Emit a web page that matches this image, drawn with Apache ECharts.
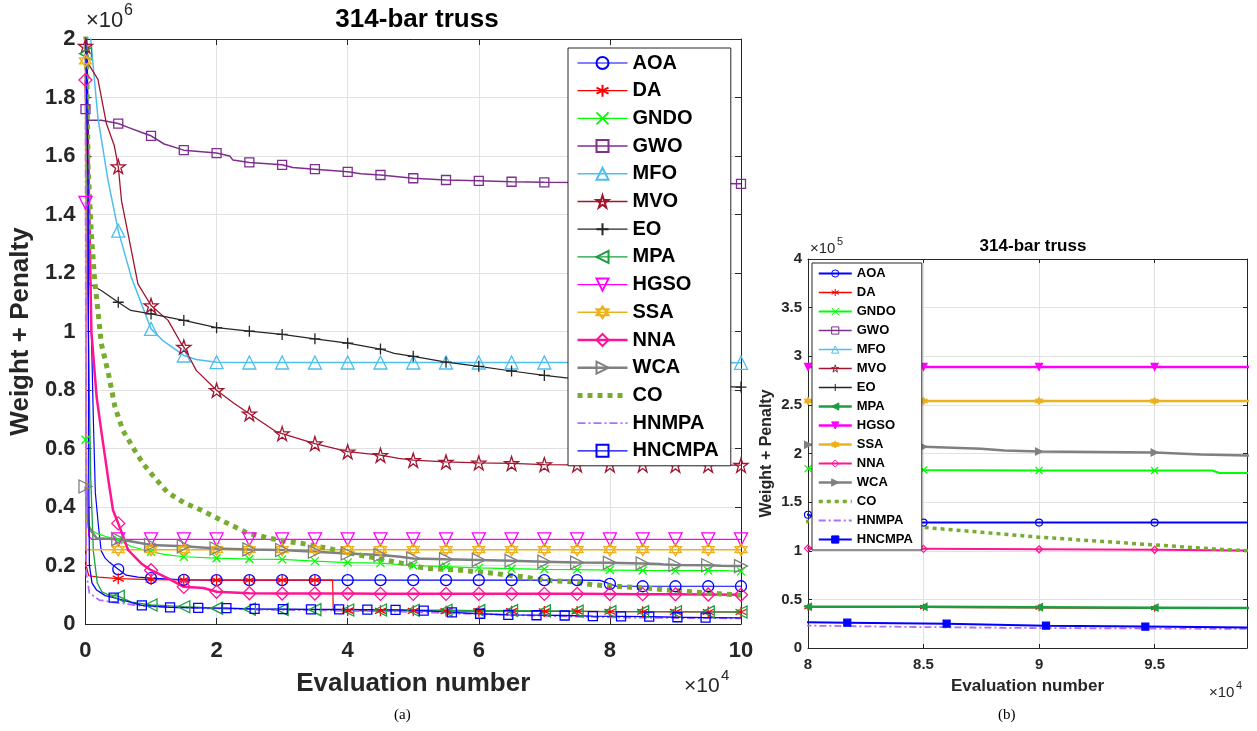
<!DOCTYPE html>
<html>
<head>
<meta charset="utf-8">
<title>314-bar truss</title>
<script src="https://cdn.jsdelivr.net/npm/echarts@6.0.0/dist/echarts.min.js"></script>
<style>
  html, body { margin: 0; padding: 0; background: #fff; }
  #chart { width: 1257px; height: 731px; }
</style>
</head>
<body>
<div id="chart"></div>
<script>
  // convergence histories: x in 1e4 evaluations, y in 1e6 (weight + penalty)
  const names = ['AOA', 'DA', 'GNDO', 'GWO', 'MFO', 'MVO', 'EO', 'MPA', 'HGSO', 'SSA', 'NNA', 'WCA', 'CO', 'HNMPA', 'HNCMPA'];

  const AOA = [[0,2.05],[0.02,2.0],[0.05,1.6],[0.08,1.1],[0.12,0.7],[0.15,0.45],[0.2,0.33],[0.24,0.25],[0.3,0.225],[0.37,0.21],[0.5,0.187],[0.62,0.167],[0.8,0.16],[1,0.157],[1.5,0.151],[2,0.15],[2.5,0.15],[3,0.15],[3.5,0.15],[4,0.15],[4.5,0.15],[5,0.15],[5.5,0.15],[6,0.15],[6.5,0.15],[7,0.15],[7.5,0.15],[7.85,0.149],[8,0.137],[8.1,0.129],[8.5,0.129],[9,0.129],[9.5,0.129],[10,0.129]];
  const DA = [[0,2.1],[0.01,0.2],[0.05,0.165],[0.2,0.16],[0.5,0.155],[1,0.152],[1.5,0.151],[2,0.15],[2.5,0.15],[3,0.15],[3.5,0.15],[3.77,0.15],[3.78,0.046],[4,0.046],[4.5,0.045],[5,0.045],[5.5,0.044],[6,0.044],[6.5,0.044],[7,0.043],[7.5,0.043],[8,0.042],[8.5,0.042],[9,0.0415],[9.5,0.041],[10,0.041]];
  const GNDO = [[0,0.63],[0.02,0.35],[0.1,0.32],[0.17,0.31],[0.3,0.3],[0.5,0.287],[0.7,0.265],[1,0.247],[1.2,0.238],[1.5,0.23],[2,0.225],[2.5,0.222],[3,0.221],[3.5,0.215],[4,0.21],[4.5,0.208],[5,0.2],[5.5,0.196],[6,0.192],[6.5,0.189],[7,0.187],[7.5,0.186],[8,0.1845],[8.5,0.183],[9,0.1825],[9.5,0.1825],[9.75,0.1825],[9.78,0.18],[10,0.18]];
  const GWO = [[0,1.76],[0.03,1.722],[0.24,1.722],[0.5,1.711],[0.65,1.698],[0.85,1.681],[1,1.669],[1.2,1.641],[1.5,1.62],[2,1.61],[2.2,1.6],[2.25,1.586],[2.5,1.578],[3,1.57],[3.16,1.561],[3.5,1.555],[4,1.546],[4.2,1.539],[4.5,1.535],[5,1.524],[5.5,1.518],[6,1.515],[6.5,1.512],[7,1.51],[7.5,1.509],[8,1.508],[8.5,1.507],[9,1.506],[9.5,1.506],[10,1.505]];
  const MFO = [[0,2.1],[0.08,2.0],[0.19,1.73],[0.345,1.515],[0.5,1.345],[0.7,1.185],[1,1.009],[1.18,0.969],[1.5,0.918],[1.69,0.904],[2,0.895],[2.5,0.894],[3,0.894],[3.5,0.894],[4,0.894],[4.5,0.894],[5,0.894],[5.5,0.894],[6,0.894],[6.5,0.894],[7,0.894],[7.5,0.894],[8,0.893],[8.5,0.893],[9,0.893],[9.5,0.893],[10,0.893]];
  const MVO = [[0,1.976],[0.03,1.92],[0.19,1.862],[0.32,1.71],[0.44,1.635],[0.5,1.564],[0.55,1.447],[0.65,1.334],[0.8,1.163],[1,1.089],[1.26,1.038],[1.46,0.959],[1.5,0.947],[1.69,0.867],[2,0.799],[2.27,0.754],[2.5,0.719],[2.91,0.657],[3,0.651],[3.5,0.617],[4,0.589],[4.5,0.577],[4.78,0.566],[5,0.56],[5.5,0.554],[6,0.551],[6.5,0.549],[7,0.545],[7.5,0.544],[8,0.544],[8.5,0.544],[9,0.543],[9.5,0.543],[10,0.543]];
  const EO = [[0,2.1],[0.03,1.9],[0.04,1.165],[0.24,1.14],[0.5,1.1],[0.69,1.072],[1,1.06],[1.5,1.038],[2,1.013],[2.5,1.001],[3,0.99],[3.5,0.975],[4,0.96],[4.5,0.94],[4.71,0.925],[5,0.915],[5.5,0.895],[6,0.881],[6.5,0.865],[7,0.85],[7.5,0.837],[8,0.828],[8.5,0.822],[9,0.817],[9.5,0.813],[10,0.81]];
  const MPA = [[0,1.95],[0.03,1.2],[0.08,0.5],[0.12,0.25],[0.18,0.14],[0.25,0.11],[0.35,0.1],[0.5,0.095],[0.7,0.075],[1,0.065],[1.5,0.059],[2,0.054],[2.5,0.051],[3,0.05],[3.5,0.049],[4,0.048],[4.5,0.048],[5,0.047],[5.5,0.047],[6,0.046],[6.5,0.046],[7,0.045],[7.5,0.044],[8,0.0425],[8.5,0.0425],[9,0.042],[9.5,0.0415],[10,0.041]];
  const HGSO = [[0,1.44],[0.02,0.5],[0.05,0.3],[0.1,0.289],[0.5,0.289],[1,0.289],[1.5,0.289],[2,0.289],[2.5,0.289],[3,0.289],[3.5,0.289],[4,0.289],[4.5,0.289],[5,0.289],[5.5,0.289],[6,0.289],[6.5,0.289],[7,0.289],[7.5,0.289],[8,0.289],[8.5,0.289],[9,0.289],[9.5,0.289],[10,0.289]];
  const SSA = [[0,1.925],[0.01,0.254],[0.5,0.254],[1,0.254],[1.5,0.254],[2,0.254],[2.5,0.254],[3,0.254],[3.5,0.254],[4,0.254],[4.5,0.254],[5,0.254],[5.5,0.254],[6,0.254],[6.5,0.254],[7,0.254],[7.5,0.254],[8,0.254],[8.5,0.254],[9,0.254],[9.5,0.254],[10,0.254]];
  const NNA = [[0,1.86],[0.05,1.5],[0.09,1.0],[0.17,0.776],[0.24,0.662],[0.35,0.491],[0.42,0.389],[0.5,0.344],[0.65,0.253],[0.85,0.207],[1,0.184],[1.26,0.156],[1.5,0.127],[1.8,0.123],[2,0.11],[2.5,0.105],[3,0.104],[3.5,0.104],[4,0.104],[4.5,0.103],[5,0.103],[5.5,0.103],[6,0.103],[6.5,0.103],[7,0.103],[7.5,0.103],[8,0.1025],[8.5,0.102],[9,0.1015],[9.5,0.101],[10,0.1]];
  const WCA = [[0,0.47],[0.05,0.33],[0.17,0.293],[0.5,0.29],[0.75,0.28],[1,0.27],[1.5,0.266],[2,0.258],[2.5,0.255],[3,0.253],[3.5,0.247],[4,0.241],[4.5,0.236],[4.8,0.23],[5,0.224],[5.5,0.221],[6,0.219],[6.5,0.216],[7,0.213],[7.5,0.21],[8,0.209],[8.5,0.207],[8.75,0.205],[8.85,0.203],[9,0.202],[9.5,0.201],[9.7,0.199],[9.9,0.198],[10,0.198]];
  const CO = [[0,2.05],[0.02,1.9],[0.04,1.56],[0.09,1.334],[0.14,1.174],[0.19,1.072],[0.24,0.96],[0.35,0.856],[0.45,0.742],[0.57,0.662],[0.75,0.594],[0.88,0.548],[1,0.515],[1.25,0.45],[1.5,0.415],[1.77,0.389],[1.97,0.366],[2.48,0.31],[2.98,0.285],[3.29,0.276],[3.69,0.259],[4.2,0.235],[4.71,0.213],[5.2,0.19],[5.72,0.184],[6.23,0.173],[6.68,0.161],[6.99,0.15],[7.44,0.144],[7.75,0.134],[8,0.13],[8.25,0.127],[8.5,0.124],[8.75,0.119],[9,0.114],[9.25,0.11],[9.5,0.106],[9.75,0.102],[9.9,0.1],[10,0.098]];
  const HNMPA = [[0,2.1],[0.01,0.175],[0.06,0.106],[0.21,0.082],[0.4,0.075],[0.75,0.065],[1,0.06],[1.5,0.056],[2,0.053],[2.5,0.05],[3,0.048],[3.5,0.047],[4,0.046],[4.5,0.044],[5,0.041],[5.5,0.037],[6,0.034],[6.5,0.031],[7,0.028],[7.5,0.025],[8,0.023],[8.5,0.0215],[9,0.0205],[9.5,0.02],[10,0.0195]];
  const HNCMPA = [[0,2.05],[0.04,1.5],[0.05,0.5],[0.06,0.2],[0.1,0.14],[0.17,0.116],[0.3,0.097],[0.43,0.09],[0.86,0.064],[1.29,0.057],[1.72,0.055],[2.15,0.054],[2.58,0.052],[3.01,0.051],[3.44,0.05],[3.87,0.05],[4.3,0.049],[4.73,0.048],[5.16,0.046],[5.59,0.04],[6.02,0.035],[6.45,0.031],[6.88,0.03],[7.31,0.029],[7.74,0.027],[8.17,0.026],[8.6,0.025],[9.03,0.023],[9.46,0.022],[10,0.021]];

  const curves = [AOA, DA, GNDO, GWO, MFO, MVO, EO, MPA, HGSO, SSA, NNA, WCA, CO, HNMPA, HNCMPA];

  // styles (matlab look)
  const colors = ['#0000ff', '#ff0000', '#00ff00', '#7e2f8e', '#4dbeee', '#a2142f', '#262626', '#1b9e3e', '#ff00ff', '#edb120', '#ff1493', '#808080', '#77ac30', '#b26bff', '#0000ff'];
  const SYM = {
    circle: 'circle',
    asterisk: 'path://M5,0L5,10M0.67,2.5L9.33,7.5M0.67,7.5L9.33,2.5',
    cross: 'path://M1,1L9,9M1,9L9,1',
    square: 'rect',
    triUp: 'triangle',
    star: 'path://M5,0L6.123,3.455L9.755,3.455L6.816,5.59L7.939,9.045L5,6.91L2.061,9.045L3.184,5.59L0.245,3.455L3.877,3.455Z',
    plus: 'path://M5,0L5,10M0,5L10,5',
    triLeft: 'path://M10,0L0,5L10,10Z',
    triDown: 'path://M0,0L10,0L5,10Z',
    hexagram: 'path://M5,0L9.33,7.5L0.67,7.5ZM5,10L0.67,2.5L9.33,2.5Z',
    diamond: 'diamond',
    triRight: 'path://M0,0L10,5L0,10Z',
    none: 'none'
  };
  const symbols = ['circle', 'asterisk', 'cross', 'square', 'triUp', 'star', 'plus', 'triLeft', 'triDown', 'hexagram', 'diamond', 'triRight', 'none', 'none', 'square'];
  const markStep = [0.5, 0.5, 0.5, 0.5, 0.5, 0.5, 0.5, 0.5, 0.5, 0.5, 0.5, 0.5, 0, 0, 0.43];
  const sizeA = [11, 11, 8, 9, 13, 14, 11, 12, 13, 12, 13, 13, 0, 0, 9];
  const widthA = [1.2, 1.2, 1.2, 1.5, 1.5, 1.3, 1.2, 1.3, 1.3, 1.5, 2.5, 2.5, 5, 1.8, 1.3];
  const dashA = ['solid', 'solid', 'solid', 'solid', 'solid', 'solid', 'solid', 'solid', 'solid', 'solid', 'solid', 'solid', [5, 5], [8, 3, 2, 3], 'solid'];
  const filledB = [false, true, true, false, false, false, true, true, true, true, false, true, false, false, true];
  const dashB = ['solid', 'solid', 'solid', 'solid', 'solid', 'solid', 'solid', 'solid', 'solid', 'solid', 'solid', 'solid', [4, 4], [7, 3, 2, 3], 'solid'];
  const widthB = [2, 1.5, 2, 1.5, 1.5, 1.5, 1.5, 2.5, 2.5, 2.5, 2, 2.5, 3.5, 1.8, 2];

  const FONT = '"Liberation Sans", Arial, sans-serif';
  const AX = '#262626';

  function points(pts, step) {
    return pts.map(function (p) {
      const k = step > 0 ? p[0] / step : 0.5;
      const on = step > 0 && Math.abs(k - Math.round(k)) < 1e-6;
      return on ? { value: p } : { value: p, symbol: 'none' };
    });
  }

  function itemStyleOf(i, filled, bw) {
    if (symbols[i] === 'none') return { color: 'transparent', borderWidth: 0 };
    return { color: filled ? colors[i] : 'transparent', borderColor: colors[i], borderWidth: bw };
  }

  const series = [];
  names.forEach(function (n, i) {
    series.push({
      name: n, type: 'line', xAxisIndex: 0, yAxisIndex: 0,
      data: points(curves[i], markStep[i]),
      symbol: SYM[symbols[i]], symbolSize: sizeA[i],
      lineStyle: { color: colors[i], width: widthA[i], type: dashA[i] },
      itemStyle: itemStyleOf(i, false, 1.3),
      emphasis: { disabled: true }
    });
  });
  names.forEach(function (n, i) {
    series.push({
      name: n, type: 'line', xAxisIndex: 2, yAxisIndex: 2,
      data: points(curves[i], markStep[i]),
      symbol: SYM[symbols[i]], symbolSize: 7,
      lineStyle: { color: colors[i], width: widthB[i], type: dashB[i] },
      itemStyle: itemStyleOf(i, filledB[i], 1.2),
      emphasis: { disabled: true }
    });
  });

  function axisBase(extra) {
    return Object.assign({
      type: 'value',
      axisLine: { show: true, onZero: false, lineStyle: { color: AX, width: 1 } },
      axisTick: { show: true, inside: true, length: 6, lineStyle: { color: AX } },
      splitLine: { show: false },
      axisLabel: { show: false }
    }, extra);
  }

  const gridLine = { show: true, lineStyle: { color: '#e1e1e1', width: 1 } };
  const labA = { show: true, fontSize: 22, fontWeight: 'bold', color: AX, fontFamily: FONT };
  const labB = { show: true, fontSize: 15, fontWeight: 'bold', color: AX, fontFamily: FONT };

  const option = {
    animation: false,
    backgroundColor: '#fff',
    textStyle: { fontFamily: FONT },
    title: [
      { text: '314-bar truss', left: 412, top: 2, textAlign: 'center',
        textStyle: { fontSize: 26, fontWeight: 'bold', color: '#000', fontFamily: FONT } },
      { text: '314-bar truss', left: 1028, top: 233, textAlign: 'center',
        textStyle: { fontSize: 17, fontWeight: 'bold', color: '#000', fontFamily: FONT } }
    ],
    grid: [
      { left: 84, top: 39, width: 657, height: 585 },
      { left: 808, top: 259, width: 439, height: 389 }
    ],
    xAxis: [
      axisBase({ gridIndex: 0, position: 'bottom', min: 0, max: 10, interval: 2,
        splitLine: gridLine, axisLabel: Object.assign({ margin: 16 }, labA),
        name: 'Evaluation number', nameLocation: 'middle', nameGap: 47,
        nameTextStyle: { fontSize: 26, fontWeight: 'bold', color: AX, fontFamily: FONT } }),
      axisBase({ gridIndex: 0, position: 'top', min: 0, max: 10, interval: 2 }),
      axisBase({ gridIndex: 1, position: 'bottom', min: 8, max: 9.9, interval: 0.5,
        axisTick: { show: true, inside: true, length: 4, lineStyle: { color: AX } },
        splitLine: gridLine, axisLabel: Object.assign({ margin: 9, showMaxLabel: false }, labB),
        name: 'Evaluation number', nameLocation: 'middle', nameGap: 30,
        nameTextStyle: { fontSize: 17, fontWeight: 'bold', color: AX, fontFamily: FONT } }),
      axisBase({ gridIndex: 1, position: 'top', min: 8, max: 9.9, interval: 0.5,
        axisTick: { show: true, inside: true, length: 4, lineStyle: { color: AX } } })
    ],
    yAxis: [
      axisBase({ gridIndex: 0, position: 'left', min: 0, max: 2, interval: 0.2,
        splitLine: gridLine, axisLabel: Object.assign({ margin: 10 }, labA),
        name: 'Weight + Penalty', nameLocation: 'middle', nameGap: 51,
        nameTextStyle: { fontSize: 26, fontWeight: 'bold', color: AX, fontFamily: FONT } }),
      axisBase({ gridIndex: 0, position: 'right', min: 0, max: 2, interval: 0.2 }),
      axisBase({ gridIndex: 1, position: 'left', min: 0, max: 0.4, interval: 0.05,
        axisTick: { show: true, inside: true, length: 4, lineStyle: { color: AX } },
        splitLine: gridLine,
        axisLabel: Object.assign({ margin: 6, formatter: function (v) { return String(Math.round(v * 100) / 10); } }, labB),
        name: 'Weight + Penalty', nameLocation: 'middle', nameGap: 33,
        nameTextStyle: { fontSize: 16, fontWeight: 'bold', color: AX, fontFamily: FONT } }),
      axisBase({ gridIndex: 1, position: 'right', min: 0, max: 0.4, interval: 0.05,
        axisTick: { show: true, inside: true, length: 4, lineStyle: { color: AX } } })
    ],
    legend: [
      {
        orient: 'vertical', left: 568, top: 48,
        itemWidth: 50, itemHeight: 15, itemGap: 7.7,
        padding: [5, 12, 5, 7],
        borderColor: AX, borderWidth: 1, backgroundColor: '#fff',
        textStyle: { fontSize: 20, fontWeight: 'bold', color: '#000', fontFamily: FONT, lineHeight: 20 },
        data: names.map(function (n, i) {
          return {
            name: n,
            lineStyle: { color: colors[i], width: widthA[i], type: dashA[i] }
          };
        })
      },
      {
        orient: 'vertical', left: 812, top: 263,
        itemWidth: 33, itemHeight: 9, itemGap: 6,
        padding: [4, 9, 4, 5],
        borderColor: AX, borderWidth: 1, backgroundColor: '#fff',
        textStyle: { fontSize: 13, fontWeight: 'bold', color: '#000', fontFamily: FONT, lineHeight: 12.5 },
        data: names.map(function (n, i) {
          return {
            name: n,
            itemStyle: itemStyleOf(i, filledB[i], 1),
            lineStyle: { color: colors[i], width: widthB[i], type: dashB[i] }
          };
        })
      }
    ],
    graphic: [
      { type: 'text', left: 86, top: 10, style: { text: '×10', font: '22px ' + FONT, fill: AX } },
      { type: 'text', left: 124, top: 3, style: { text: '6', font: '16px ' + FONT, fill: AX } },
      { type: 'text', left: 684, top: 676, style: { text: '×10', font: '21px ' + FONT, fill: AX } },
      { type: 'text', left: 721, top: 668, style: { text: '4', font: '15px ' + FONT, fill: AX } },
      { type: 'text', left: 810, top: 241, style: { text: '×10', font: '15px ' + FONT, fill: AX } },
      { type: 'text', left: 837, top: 236, style: { text: '5', font: '11px ' + FONT, fill: AX } },
      { type: 'text', left: 1209, top: 685, style: { text: '×10', font: '15px ' + FONT, fill: AX } },
      { type: 'text', left: 1236, top: 680, style: { text: '4', font: '11px ' + FONT, fill: AX } },
      { type: 'text', left: 394, top: 708, style: { text: '(a)', font: '15px "Liberation Serif", serif', fill: '#000' } },
      { type: 'text', left: 998, top: 708, style: { text: '(b)', font: '15px "Liberation Serif", serif', fill: '#000' } }
    ],
    series: series
  };

  const chart = echarts.init(document.getElementById('chart'), null, { renderer: 'canvas' });
  chart.setOption(option);
</script>
</body>
</html>
